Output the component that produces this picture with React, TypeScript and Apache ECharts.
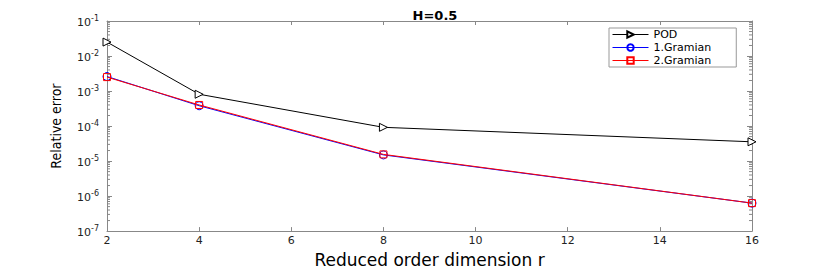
import React, { useEffect, useRef } from "react";
import * as echarts from "echarts";

const categories = [2, 4, 8, 16];
const podValues = [2.5e-2, 8.1e-4, 9.2e-5, 3.55e-5];
const gram1Values = [2.6e-3, 3.8e-4, 1.5e-5, 6.3e-7];
const gram2Values = [2.5e-3, 4.0e-4, 1.55e-5, 6.3e-7];
const seriesNames = ["POD", "1.Gramian", "2.Gramian"];
const titleText = "H=0.5";
const xName = "Reduced order dimension r";
const yName = "Relative error";

const WIDE = "DejaVu Sans, Liberation Sans, sans-serif";
const NARROW = "Liberation Sans Narrow, DejaVu Sans Condensed, Liberation Sans, sans-serif";

export default function App() {
  const ref = useRef<HTMLDivElement>(null);
  useEffect(() => {
    if (!ref.current) return;
    const chart = echarts.init(ref.current, undefined, { renderer: "svg" });
    const minorVals: number[][] = [];
    for (let e = -7; e < -1; e++) {
      for (let k = 2; k <= 9; k++) minorVals.push([2, k * Math.pow(10, e)]);
    }
    const axisColor = "#888";
    const pair = (vals: number[]) => categories.map((c, i) => [c, vals[i]]);
    chart.setOption({
      animation: false,
      backgroundColor: "#fff",
      title: {
        text: titleText,
        left: 430,
        textAlign: "center",
        top: 4,
        textStyle: { fontFamily: WIDE, fontSize: 13, fontWeight: "bold", color: "#000" },
      },
      legend: {
        data: seriesNames,
        orient: "vertical",
        left: 609,
        top: 28,
        itemWidth: 36,
        itemHeight: 8,
        itemGap: 0,
        padding: [0, 25, 0, 3],
        backgroundColor: "#fff",
        borderColor: "#999",
        borderWidth: 1,
        borderRadius: 0,
        lineStyle: { width: 1 },
        textStyle: { fontFamily: WIDE, fontSize: 11, lineHeight: 13, color: "#000", padding: [0, 0, 0, 0] },
      },
      grid: { left: 107, right: 78, top: 21, bottom: 30, show: false },
      xAxis: [
        {
          type: "value",
          min: 2,
          max: 16,
          interval: 2,
          name: xName,
          nameLocation: "middle",
          nameGap: 12,
          nameTextStyle: { fontFamily: WIDE, fontSize: 17, color: "#000", verticalAlign: "top" },
          axisLine: { show: true, lineStyle: { color: axisColor } },
          axisTick: { show: true, inside: true, length: 4, lineStyle: { color: axisColor } },
          axisLabel: { fontFamily: WIDE, fontSize: 11, color: "#222", margin: 4 },
          splitLine: { show: false },
        },
        {
          type: "value",
          position: "top",
          min: 2,
          max: 16,
          interval: 2,
          axisLine: { show: true, lineStyle: { color: axisColor } },
          axisTick: { show: true, inside: true, length: 4, lineStyle: { color: axisColor } },
          axisLabel: { show: false },
          splitLine: { show: false },
        },
      ],
      yAxis: [
        {
          type: "log",
          logBase: 10,
          min: 1e-7,
          max: 1e-1,
          name: yName,
          nameLocation: "middle",
          nameGap: 44,
          nameTextStyle: { fontFamily: NARROW, fontSize: 14, color: "#000" },
          axisLine: { show: true, lineStyle: { color: axisColor } },
          axisTick: { show: true, inside: true, length: 5, lineStyle: { color: axisColor } },
          axisLabel: {
            margin: 8,
            formatter: (v: number) => {
              const e = Math.round(Math.log10(v));
              return `{b|10}{s|${e}}`;
            },
            rich: {
              b: { fontFamily: WIDE, fontSize: 11, color: "#222", padding: [3, 0, 0, 0] },
              s: { fontFamily: WIDE, fontSize: 8, color: "#222", verticalAlign: "top", padding: [0, 0, 4, 0] },
            },
          },
          splitLine: { show: false },
        },
        {
          type: "log",
          logBase: 10,
          min: 1e-7,
          max: 1e-1,
          position: "right",
          axisLine: { show: true, lineStyle: { color: axisColor } },
          axisTick: { show: true, inside: true, length: 5, lineStyle: { color: axisColor } },
          axisLabel: { show: false },
          splitLine: { show: false },
        },
      ],
      series: [
        {
          type: "custom",
          name: "minorTicks",
          silent: true,
          xAxisIndex: 0,
          yAxisIndex: 0,
          data: minorVals,
          renderItem: (params: any, api: any) => {
            const v = api.value(1);
            const pL = api.coord([2, v]);
            const pR = api.coord([16, v]);
            const style = { stroke: axisColor, lineWidth: 1 };
            return {
              type: "group",
              children: [
                { type: "line", shape: { x1: pL[0], y1: pL[1], x2: pL[0] + 3, y2: pL[1] }, style },
                { type: "line", shape: { x1: pR[0], y1: pR[1], x2: pR[0] - 3, y2: pR[1] }, style },
              ],
            };
          },
          z: 1,
        },
        {
          name: seriesNames[0],
          type: "line",
          data: pair(podValues),
          symbol: "triangle",
          symbolRotate: -90,
          symbolSize: 8,
          showAllSymbol: true,
          itemStyle: { color: "#fff", borderColor: "#000", borderWidth: 1 },
          lineStyle: { color: "#000", width: 1 },
          z: 3,
        },
        {
          name: seriesNames[1],
          type: "line",
          data: pair(gram1Values),
          symbol: "circle",
          symbolSize: 8,
          itemStyle: { color: "rgba(255,255,255,0)", borderColor: "#0000ff", borderWidth: 1 },
          lineStyle: { color: "#0000ff", width: 1 },
          z: 3,
        },
        {
          name: seriesNames[2],
          type: "line",
          data: pair(gram2Values),
          symbol: "rect",
          symbolSize: 7,
          itemStyle: { color: "rgba(255,255,255,0)", borderColor: "#ff0000", borderWidth: 1 },
          lineStyle: { color: "#ff0000", width: 1 },
          z: 4,
        },
      ],
    });
    return () => chart.dispose();
  }, []);
  return <div ref={ref} style={{ width: 830, height: 273, position: "absolute", left: 0, top: 0 }} />;
}
